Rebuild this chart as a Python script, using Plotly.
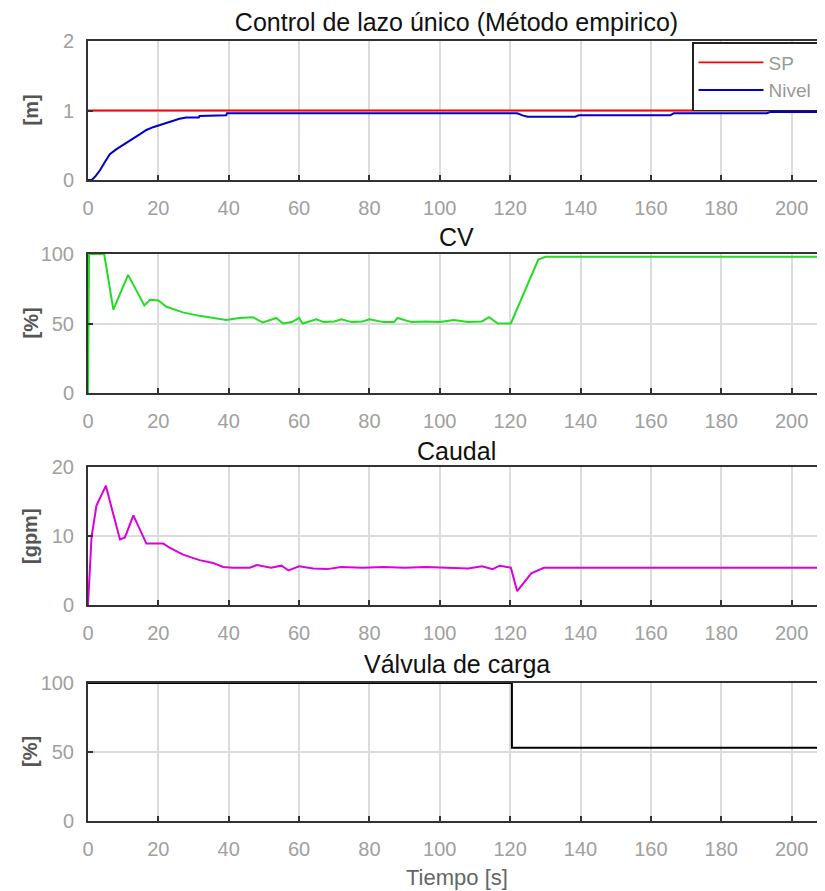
import plotly.graph_objects as go

# ---------------- data ----------------
t_sp = [0, 210]
sp = [1, 1]

t_nivel = [0, 1.1, 2.2, 3.4, 4.8, 6.2, 8, 10, 11.5, 12.9, 14.8, 16.6, 18.5, 20.4, 22.3,
           24.2, 26, 27.9, 31.5, 31.7, 39.3, 39.5,
           122, 123.5, 125, 138.5, 139.5, 165.5, 166.5, 193, 194, 210]
nivel = [0, 0, 0.06, 0.14, 0.26, 0.37, 0.44, 0.51, 0.56, 0.6, 0.66, 0.72, 0.76, 0.79, 0.83,
         0.86, 0.88, 0.9, 0.9, 0.92, 0.93, 0.96,
         0.96, 0.93, 0.91, 0.91, 0.93, 0.93, 0.96, 0.96, 0.98, 0.98]

t_cv = [0, 0.3, 4.6, 7.2, 11.4, 16, 17.6, 20, 22.3, 27, 31.7, 35.5, 39.3, 43, 46.9,
        49.7, 53.5, 55.4, 58, 60, 61, 64.9, 67, 70, 72, 75, 78, 80, 84, 87, 88, 92,
        96, 100, 104, 108, 112, 114, 116.5, 120.2, 128, 130, 210]
cv = [0, 100, 100, 60, 85, 63, 67, 66.5, 62, 58, 55.5, 54, 52.6, 54, 54.5,
      50.7, 54, 50, 51, 54, 50, 53, 51, 51.5, 53, 51, 51.5, 53, 51, 51, 54, 51,
      51.5, 51, 52.5, 51, 51.5, 54.5, 50, 50, 96, 98, 98]

t_caudal = [0, 1, 2.4, 5.1, 6.7, 9.1, 10.5, 12.9, 16.6, 21.4, 23.2, 27, 31.7, 35.5,
            38.4, 41.2, 46, 48, 52, 55, 57, 60, 64, 68, 72, 78, 84, 90, 96, 102,
            108, 112, 115, 117, 120.2, 122, 126, 129.6, 210]
caudal = [0, 9.8, 14.4, 17.3, 14.1, 9.5, 9.8, 13, 8.9, 8.9, 8.3, 7.3, 6.5, 6.1,
          5.5, 5.4, 5.4, 5.8, 5.4, 5.7, 5.0, 5.6, 5.3, 5.2, 5.5, 5.4, 5.5, 5.4, 5.5, 5.4,
          5.3, 5.6, 5.2, 5.7, 5.4, 2.0, 4.6, 5.4, 5.4]

t_valvula = [0, 120.5, 120.5, 210]
valvula = [100, 100, 53, 53]

x_ticks = [0, 20, 40, 60, 80, 100, 120, 140, 160, 180, 200]
titles = ["Control de lazo único (Método empirico)", "CV", "Caudal", "Válvula de carga"]
ylabels = ["[m]", "[%]", "[gpm]", "[%]"]
y_ranges = [[0, 2], [0, 100], [0, 20], [0, 100]]
y_ticks = [[0, 1, 2], [0, 50, 100], [0, 10, 20], [0, 50, 100]]

# ---------------- layout geometry (screen pixels of the reference) ----------------
OFF = 8                      # default body margin of the html page
W, H = 825 - OFF, 891 - OFF  # figure size so that it ends at the window edge
left_px = 88
plot_px = [(41, 180), (254, 393), (467, 605), (683, 821)]
title_px = [22, 237, 451, 664]


def px_x(p):
    return (p - OFF) / W


def px_y(p):
    return 1 - (p - OFF) / H


FONT = "Liberation Sans, Arial, sans-serif"
fig = go.Figure()

fig.add_trace(go.Scatter(x=t_sp, y=sp, mode="lines", name="SP",
                         line=dict(color="#ff0000", width=1.8), xaxis="x", yaxis="y"))
fig.add_trace(go.Scatter(x=t_nivel, y=nivel, mode="lines", name="Nivel",
                         line=dict(color="#0000cc", width=2), xaxis="x", yaxis="y"))
fig.add_trace(go.Scatter(x=t_cv, y=cv, mode="lines", showlegend=False,
                         line=dict(color="#22dd22", width=2), xaxis="x2", yaxis="y2"))
fig.add_trace(go.Scatter(x=t_caudal, y=caudal, mode="lines", showlegend=False,
                         line=dict(color="#dd00dd", width=2), xaxis="x3", yaxis="y3"))
fig.add_trace(go.Scatter(x=t_valvula, y=valvula, mode="lines", showlegend=False,
                         line=dict(color="#000000", width=2), xaxis="x4", yaxis="y4"))

layout = dict(
    width=W, height=H,
    margin=dict(l=0, r=0, t=0, b=0, autoexpand=False),
    paper_bgcolor="white", plot_bgcolor="white",
    font=dict(family=FONT, size=20, color="#a0a0a0"),
    title=dict(text=titles[0], x=px_x((left_px + 825) / 2), xanchor="center",
               y=px_y(title_px[0]), yanchor="middle", xref="paper", yref="container",
               font=dict(size=25, color="#111111", family=FONT)),
    showlegend=True,
    legend=dict(x=px_x(692), y=px_y(42), xanchor="left", yanchor="top",
                orientation="v", itemwidth=65,
                bgcolor="white", bordercolor="#222222", borderwidth=1.5,
                font=dict(size=19, color="#999999", family=FONT), tracegroupgap=0),
)

annotations = []
for i in range(4):
    top, bot = plot_px[i]
    sfx = "" if i == 0 else str(i + 1)
    common = dict(showgrid=True, gridcolor="#dcdcdc", gridwidth=1.5,
                  showline=True, linecolor="#333333", linewidth=2, mirror=True,
                  ticks="inside", ticklen=5, tickcolor="#333333", tickwidth=1.5,
                  zeroline=False, automargin=False,
                  tickfont=dict(size=20, color="#a0a0a0", family=FONT))
    layout["xaxis" + sfx] = dict(domain=[px_x(left_px), 1], range=[0, 209.5], tickvals=x_ticks,
                                 anchor="y" + sfx, ticklabelstandoff=9, **common)
    layout["yaxis" + sfx] = dict(domain=[px_y(bot), px_y(top)], range=y_ranges[i],
                                 tickvals=y_ticks[i], anchor="x" + sfx,
                                 ticklabelstandoff=8, **common)
    if i > 0:
        annotations.append(dict(text=titles[i], x=px_x((left_px + 825) / 2), y=px_y(title_px[i]),
                                xref="paper", yref="paper", xanchor="center", yanchor="middle",
                                showarrow=False, font=dict(size=25, color="#111111", family=FONT)))
    annotations.append(dict(text="<b>" + ylabels[i] + "</b>", x=px_x(30), y=px_y((top + bot) / 2),
                            xref="paper", yref="paper", xanchor="center", yanchor="middle",
                            textangle=-90, showarrow=False,
                            font=dict(size=20, color="#555555", family=FONT)))

annotations.append(dict(text="Tiempo [s]", x=px_x((left_px + 825) / 2), y=px_y(877),
                        xref="paper", yref="paper", xanchor="center", yanchor="middle",
                        showarrow=False, font=dict(size=22, color="#666666", family=FONT)))
layout["annotations"] = annotations

fig.update_layout(**layout)
fig.write_html("out.html")
